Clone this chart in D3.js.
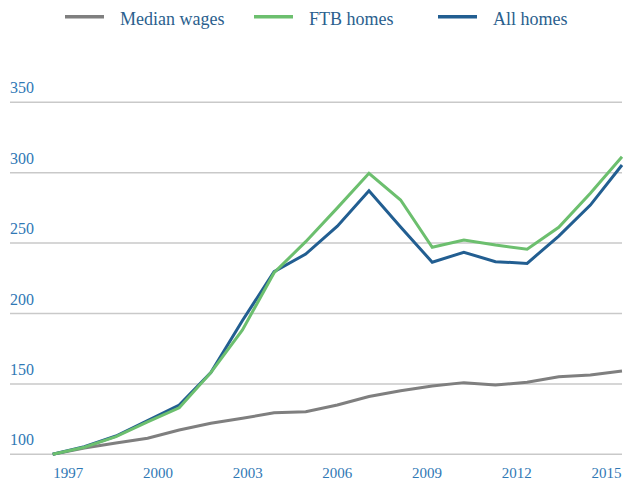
<!DOCTYPE html>
<html>
<head>
<meta charset="utf-8">
<script src="https://cdn.jsdelivr.net/npm/d3@7"></script>
<style>
  html, body { margin: 0; padding: 0; background: #ffffff; }
  svg { display: block; }
  text { font-family: 'Liberation Serif', 'DejaVu Serif', serif; }
</style>
</head>
<body>
<svg id="chart" width="627" height="483"></svg>
<script>
const years = [1997,1998,1999,2000,2001,2002,2003,2004,2005,2006,2007,2008,2009,2010,2011,2012,2013,2014,2015];
const medianWages = [100,104.5,108,111.4,117.3,122,125.6,129.5,130.3,135,141,145.2,148.5,150.9,149.2,151.1,155.1,156.3,159.2];
const ftbHomes    = [100,105,112.5,123,133,158,188.3,229,251,275,299.6,280.6,247,252.2,248.6,245.6,261.2,285.4,311.4];
const allHomes    = [100,105.4,113,124,135,158,195,229.7,242.2,262,287.2,261.5,236.4,243.5,236.8,235.6,255,277,305.5];
const yTicks = [100,150,200,250,300,350];
const xTickLabels = [1997,2000,2003,2006,2009,2012,2015];
const seriesNames = ["Median wages","FTB homes","All homes"];
const seriesColors = ["#7f7f7f","#6cbf6e","#225e91"];

const svg = d3.select("#chart");
const x = d3.scalePoint().domain(years).range([52.7, 622]);
const xLabel = d3.scaleLinear().domain([1997, 2015]).range([67.7, 606]);
const y = d3.scaleLinear().domain([100, 350]).range([454.3, 102.3]);

// gridlines
svg.append("g").selectAll("line").data(yTicks).join("line")
  .attr("x1", 10).attr("x2", 622)
  .attr("y1", d => y(d)).attr("y2", d => y(d))
  .attr("stroke", "#c9c9c9").attr("stroke-width", 1.5);

// y labels
svg.append("g").selectAll("text").data(yTicks).join("text")
  .attr("x", 10).attr("y", d => y(d) - 9)
  .attr("font-size", 16)
  .attr("fill", "#2f78b5").text(d => d);

// x axis labels
const xAxis = d3.axisBottom(xLabel).tickValues(xTickLabels).tickFormat(d3.format("d")).tickSize(0).tickPadding(0);
const gx = svg.append("g").attr("transform", "translate(0,466)").call(xAxis);
gx.select(".domain").remove();
gx.attr("font-family", null);
gx.selectAll("text").attr("font-size", 15)
  .attr("fill", "#2f78b5").attr("dy", "0.8em");

// lines
const line = d3.line().x((d, i) => x(years[i])).y(d => y(d));
const data = [medianWages, allHomes, ftbHomes];
const cols = [seriesColors[0], seriesColors[2], seriesColors[1]];
data.forEach((s, k) => {
  svg.append("path").datum(s).attr("d", line)
    .attr("fill", "none").attr("stroke", cols[k]).attr("stroke-width", 3)
    .attr("stroke-linejoin", "miter");
});

// legend
const legX = [65, 254, 438];
const leg = svg.append("g");
seriesNames.forEach((n, i) => {
  leg.append("line").attr("x1", legX[i]).attr("x2", legX[i] + 39)
    .attr("y1", 16.7).attr("y2", 16.7)
    .attr("stroke", seriesColors[i]).attr("stroke-width", 3.5);
  leg.append("text").attr("x", legX[i] + 55).attr("y", 25)
    .attr("font-size", 18)
    .attr("fill", "#2b5f8e").text(n);
});
</script>
</body>
</html>
